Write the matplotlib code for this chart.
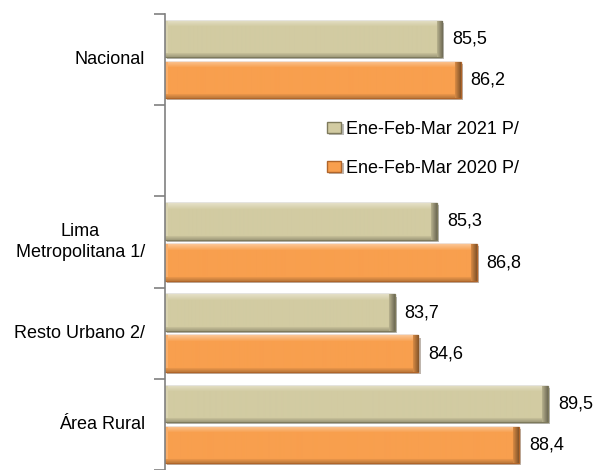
import matplotlib
matplotlib.use("Agg")
import matplotlib.pyplot as plt
import matplotlib.patheffects as pe
from matplotlib.colors import to_rgb
import numpy as np

plt.rcParams['font.family'] = ['Liberation Sans', 'DejaVu Sans']

categories = ["Nacional", "", "Lima\nMetropolitana 1/", "Resto Urbano 2/", "Área Rural"]
series_2021 = [85.5, None, 85.3, 83.7, 89.5]
series_2020 = [86.2, None, 86.8, 84.6, 88.4]
labels = ["Ene-Feb-Mar 2021 P/", "Ene-Feb-Mar 2020 P/"]

W, H = 595, 470
fig = plt.figure(figsize=(W / 100, H / 100), dpi=100)
left_px, top_px = 165, 14
ax = fig.add_axes([left_px / W, 0, 1 - left_px / W, 1 - top_px / H])

x0 = 75.0
scale = 26.4  # px per unit
xlim = (x0, x0 + (W - left_px) / scale)
slot_px = 92.8
ylim = (-0.5 + (H - top_px) / slot_px, -0.5)

c21, e21 = "#D2CBA2", "#7E7A5C"
c20, e20 = "#F89F4E", "#B0652A"
bh = 0.40
off = 0.225
fs = 13


def bevel(rect, base):
    """Fill a bar patch with a soft beveled shading, clipped to the patch."""
    xb, yb, w, h = rect.get_x(), rect.get_y(), rect.get_width(), rect.get_height()
    nx, ny = max(int(w * scale), 2), max(int(h * slot_px), 2)
    b = np.array(to_rgb(base))
    img = np.tile(b, (ny, nx, 1))
    # top highlight fading down
    for j in range(6):
        t = 0.38 * (1 - j / 6)
        img[j, :, :] = b + (1 - b) * t
    img[:, :3, :] = b + (1 - b) * 0.15
    # bottom shade
    for j in range(4):
        img[ny - 1 - j, :, :] = b * (0.78 + 0.05 * j)
    # right shade
    for j in range(6):
        img[:, nx - 1 - j, :] = b * (0.55 + 0.06 * j)
    im = ax.imshow(img, extent=(xb, xb + w, yb, yb + h), origin='lower',
                   aspect='auto', interpolation='bilinear', zorder=2.5)
    im.set_clip_path(rect)


y = np.arange(len(categories))
shadow = [pe.SimplePatchShadow(offset=(1.5, -1.5), alpha=0.35), pe.Normal()]
for i in range(len(categories)):
    if series_2021[i] is None:
        continue
    b1 = ax.barh(y[i] - off, series_2021[i] - x0, left=x0, height=bh,
                 color=c21, edgecolor=e21, linewidth=1.0,
                 label=labels[0] if i == 0 else None)
    b2 = ax.barh(y[i] + off, series_2020[i] - x0, left=x0, height=bh,
                 color=c20, edgecolor=e20, linewidth=1.0,
                 label=labels[1] if i == 0 else None)
    for r in list(b1) + list(b2):
        r.set_path_effects(shadow)
    ax.text(series_2021[i] + 10 / scale, y[i] - off,
            f"{series_2021[i]:.1f}".replace('.', ','),
            va='center', ha='left', fontsize=fs)
    ax.text(series_2020[i] + 10 / scale, y[i] + off,
            f"{series_2020[i]:.1f}".replace('.', ','),
            va='center', ha='left', fontsize=fs)

for p in list(ax.patches):
    bevel(p, p.get_facecolor()[:3])

ax.set_xlim(*xlim)
ax.set_ylim(*ylim)

for s in ['top', 'right', 'bottom']:
    ax.spines[s].set_visible(False)
ax.spines['left'].set_color('#808080')
ax.spines['left'].set_linewidth(1.2)
ax.set_xticks([])
ax.set_yticks(np.arange(-0.5, len(categories), 1.0))
ax.set_yticklabels([])
ax.tick_params(axis='y', length=8, width=1.2, color='#808080', direction='out')

for i, c in enumerate(categories):
    if c:
        ax.text(x0 - 20 / scale, y[i], c, ha='right', va='center',
                fontsize=fs, multialignment='center', linespacing=1.25)

leg = fig.legend(loc='upper left', bbox_to_anchor=(327 / W, 1 - 121 / H),
                 frameon=False, fontsize=fs, handlelength=0.8, handleheight=0.55,
                 handletextpad=0.25, labelspacing=1.2, borderpad=0, borderaxespad=0)

fig.savefig("out.png", dpi=100)
